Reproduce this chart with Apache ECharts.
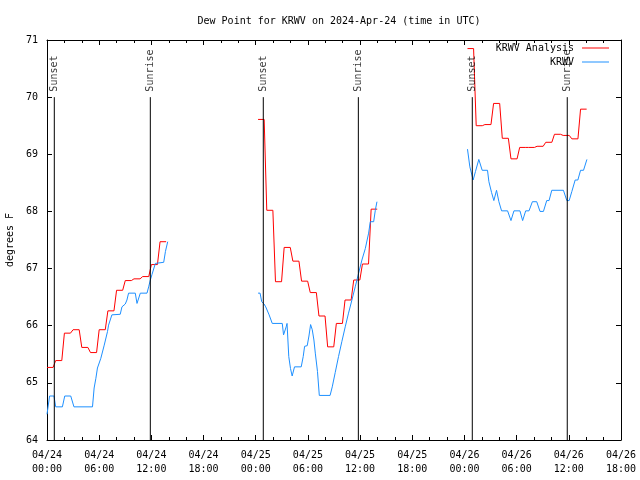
<!DOCTYPE html>
<html><head><meta charset="utf-8">
<script src="https://cdn.jsdelivr.net/npm/echarts@6/dist/echarts.min.js"></script>
<style>html,body{margin:0;padding:0;background:#fff}#c{width:640px;height:480px}</style>
</head><body><div id="c"></div>
<script>
// ---- data (hours since 2024-04-24 00:00 UTC) ----
const titleText = 'Dew Point for KRWV on 2024-Apr-24 (time in UTC)';
const xTickLabels = ['04/24\n00:00','04/24\n06:00','04/24\n12:00','04/24\n18:00',
  '04/25\n00:00','04/25\n06:00','04/25\n12:00','04/25\n18:00',
  '04/26\n00:00','04/26\n06:00','04/26\n12:00','04/26\n18:00'];
const sunTimes = [0.84, 11.88, 24.87, 35.8, 48.9, 59.82];
const sunLabels = ['Sunset','Sunrise','Sunset','Sunrise','Sunset','Sunrise'];

// KRWV Analysis: hourly values, each segment starting at given hour
const anaStarts = [0, 24.27, 48.35];
const ana1 = [65.27,65.39,65.87,65.93,65.62,65.53,65.93,66.26,66.62,66.79,66.82,66.86,67.07,67.47];
const ana2 = [69.61,68.02,66.77,67.37,67.13,66.78,66.58,66.17,65.63,66.04,66.45,66.80,67.08,68.04];
const ana3 = [70.85,69.50,69.52,69.89,69.28,68.92,69.12,69.12,69.14,69.21,69.35,69.33,69.27,69.79];

// KRWV observations [hour, value]
const obs1 = [[0.0,64.45],[0.3,64.77],[0.8,64.77],[1.0,64.58],[1.77,64.58],[2.04,64.77],[2.73,64.77],[3.1,64.58],
  [5.23,64.58],[5.42,64.91],[5.62,65.08],[5.8,65.26],[6.19,65.43],[6.58,65.66],[6.96,65.9],[7.08,66.01],[7.46,66.19],
  [8.42,66.2],[8.62,66.33],[9.0,66.38],[9.19,66.45],[9.38,66.57],[10.15,66.57],[10.35,66.39],[10.73,66.57],[11.5,66.57],
  [11.69,66.68],[11.88,66.8],[12.08,66.9],[12.46,67.09],[12.65,67.11],[13.42,67.11],[13.62,67.3],[13.88,67.47]];
const obs2 = [[24.27,66.57],[24.5,66.57],[24.69,66.42],[24.96,66.38],[25.15,66.33],[25.54,66.19],[25.9,66.04],[27.05,66.04],
  [27.2,65.84],[27.5,65.98],[27.6,66.04],[27.8,65.46],[28.0,65.25],[28.19,65.12],[28.46,65.28],[29.23,65.28],[29.46,65.46],
  [29.62,65.64],[29.92,65.65],[30.12,65.82],[30.31,66.02],[30.5,65.93],[30.69,65.75],[30.85,65.52],[31.1,65.2],[31.31,64.78],
  [32.55,64.78],[32.8,64.93],[33.14,65.18],[33.52,65.46],[33.9,65.72],[34.29,65.98],[34.67,66.22],[35.06,66.45],[35.44,66.68],
  [35.83,66.92],[36.21,67.15],[36.6,67.35],[36.98,67.62],[37.17,67.82],[37.56,67.82],[37.75,68.02],[37.94,68.17]];
const obs3 = [[48.35,69.09],[48.62,68.78],[49.0,68.55],[49.27,68.7],[49.65,68.91],[50.04,68.72],[50.65,68.72],[50.81,68.52],
  [51.12,68.33],[51.38,68.19],[51.69,68.37],[51.96,68.17],[52.27,68.01],[52.96,68.01],[53.35,67.84],[53.69,68.01],[54.38,68.01],
  [54.69,67.84],[55.04,68.01],[55.42,68.01],[55.81,68.17],[56.31,68.17],[56.69,68.0],[57.08,68.0],[57.46,68.19],[57.73,68.19],
  [58.04,68.37],[59.38,68.37],[59.77,68.19],[60.04,68.19],[60.35,68.35],[60.73,68.55],[61.04,68.55],[61.35,68.72],[61.69,68.72],[62.08,68.91]];

// ---- chart ----
const FONT = 'DejaVu Sans Mono';
const HOLD = 0.7;
function anaPoints(start, vals){
  const pts = [];
  vals.forEach((v,i)=>{ pts.push([start+i, v]); pts.push([start+i+HOLD, v]); });
  return pts;
}
const red = '#ff0000', blue = '#1e90ff';
const series = [];
[ana1, ana2, ana3].forEach((a,k)=>series.push({
  name:'KRWV Analysis', type:'line', data: anaPoints(anaStarts[k], a), symbol:'none',
  lineStyle:{color:red,width:1}, itemStyle:{color:red}, z:3, silent:true, animation:false
}));
[obs1, obs2, obs3].forEach(o=>series.push({
  name:'KRWV', type:'line', data:o, symbol:'none',
  lineStyle:{color:blue,width:1}, itemStyle:{color:blue}, z:3, silent:true, animation:false
}));
sunTimes.forEach(t=>series.push({
  type:'line', data:[[t,64],[t,70.0]], symbol:'none',
  lineStyle:{color:'#000',width:1}, z:4, silent:true, animation:false
}));
series.push({
  type:'scatter', data: sunTimes.map((t,i)=>({value:[t,70.0], name:sunLabels[i]})),
  symbolSize:1, itemStyle:{color:'rgba(0,0,0,0)'}, z:5, silent:true, animation:false,
  label:{show:true, formatter:'{b}', position:'top', distance:5, rotate:90, align:'left', verticalAlign:'middle',
    fontFamily:FONT, fontSize:10, color:'#000'}
});

const axisCommonX = {
  type:'value', min:0, max:66, interval:6,
  axisLine:{show:true, onZero:false, lineStyle:{color:'#000',width:1}},
  axisTick:{show:true, inside:true, length:5, lineStyle:{color:'#000'}},
  minorTick:{show:true, splitNumber:3, length:3, lineStyle:{color:'#000'}},
  splitLine:{show:false}, minorSplitLine:{show:false}
};
const axisCommonY = {
  type:'value', min:64, max:71, interval:1,
  axisLine:{show:true, onZero:false, lineStyle:{color:'#000',width:1}},
  axisTick:{show:true, inside:true, length:5, lineStyle:{color:'#000'}},
  splitLine:{show:false}
};
const legendCommon = {
  orient:'vertical', right:31, align:'right', itemWidth:27, itemHeight:1, itemGap:1, padding:0,
  icon:'rect',
  textStyle:{fontFamily:FONT, fontSize:10, color:'#000', padding:[0,3,0,0]},
  selectedMode:false, backgroundColor:'rgba(0,0,0,0)'
};
const chart = echarts.init(document.getElementById('c'), null, {renderer:'canvas'});
chart.setOption({
  animation:false,
  backgroundColor:'#fff',
  title:{text:titleText, left:334, top:11, textAlign:'center',
    textStyle:{fontFamily:FONT, fontSize:10, fontWeight:'normal', color:'#000'}},
  legend:[
    Object.assign({}, legendCommon, {top:43, data:['KRWV Analysis']}),
    Object.assign({}, legendCommon, {top:57, data:['KRWV']})
  ],
  grid:{left:47, right:19, top:40, bottom:40, containLabel:false, outerBoundsMode:'none'},
  xAxis:[
    Object.assign({}, axisCommonX, {position:'bottom',
      axisLabel:{show:true, margin:8, fontFamily:FONT, fontSize:10, color:'#000', lineHeight:14,
        formatter:(v)=>xTickLabels[Math.round(v/6)]}}),
    Object.assign({}, axisCommonX, {position:'top', axisLabel:{show:false}})
  ],
  yAxis:[
    Object.assign({}, axisCommonY, {position:'left', name:'degrees F', nameLocation:'middle', nameRotate:90, nameGap:32,
      nameTextStyle:{fontFamily:FONT, fontSize:10, color:'#000'},
      axisLabel:{show:true, margin:9, fontFamily:FONT, fontSize:10, color:'#000'}}),
    Object.assign({}, axisCommonY, {position:'right', axisLabel:{show:false}})
  ],
  series: series
});
</script></body></html>
